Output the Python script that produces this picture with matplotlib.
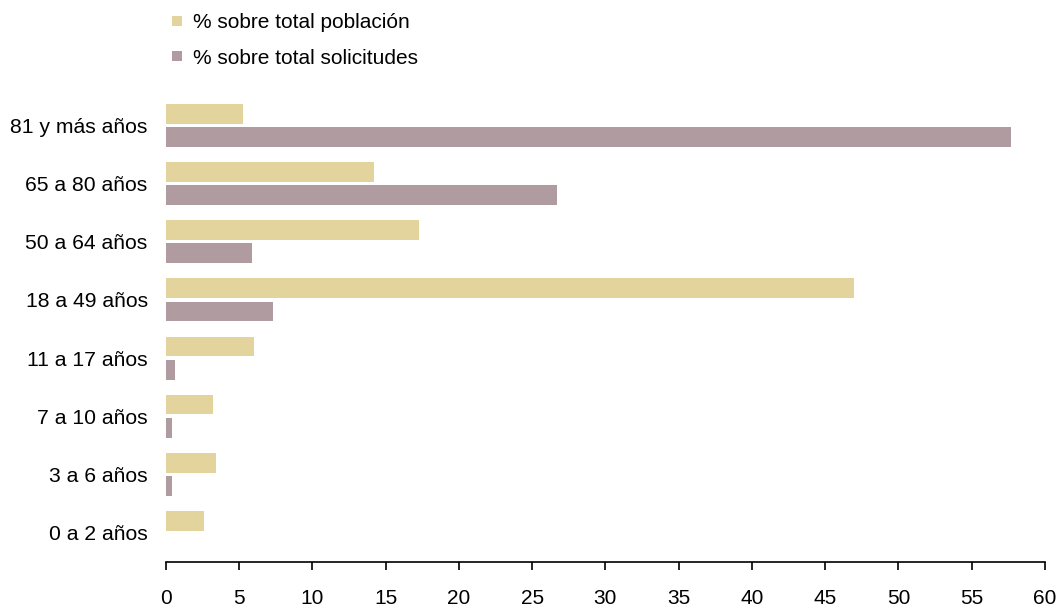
import matplotlib.pyplot as plt
import numpy as np
from matplotlib.lines import Line2D

plt.rcParams['font.family'] = ['Liberation Sans', 'DejaVu Sans']

# ── Data ─────────────────────────────────────
grupos = ["0 a 2 años", "3 a 6 años", "7 a 10 años", "11 a 17 años",
          "18 a 49 años", "50 a 64 años", "65 a 80 años", "81 y más años"]
pct_poblacion   = [2.6, 3.4, 3.2, 6.0, 46.95, 17.3, 14.2, 5.3]
pct_solicitudes = [0.0, 0.4, 0.4, 0.66, 7.35, 5.9, 26.7, 57.7]

c_pob = "#E3D49D"
c_sol = "#B09BA1"

# ── Plot ─────────────────────────────────────
fig = plt.figure(figsize=(10.56, 6.09), dpi=100)
ax = fig.add_axes([0.1569, 0.0777, 0.9896 - 0.1569, 0.8419 - 0.0777])

y = np.arange(len(grupos))
h = 0.34
ax.barh(y + 0.2, pct_poblacion, height=h, color=c_pob)
ax.barh(y - 0.2, pct_solicitudes, height=h, color=c_sol)

ax.set_xlim(0, 60)
ax.set_ylim(-0.5, 7.5)
ax.set_xticks(range(0, 61, 5))
ax.set_yticks(y)
ax.set_yticklabels(grupos)

for s in ["top", "right", "left"]:
    ax.spines[s].set_visible(False)
ax.spines["bottom"].set_linewidth(1.2)
ax.tick_params(axis="x", direction="out", length=6, width=1.2, pad=14, labelsize=15)
ax.tick_params(axis="y", length=0, pad=13, labelsize=15.2)

handles = [Line2D([], [], marker="s", linestyle="none", markersize=7.5,
                  color=c, markeredgewidth=0) for c in (c_pob, c_sol)]
fig.legend(handles, ["% sobre total población", "% sobre total solicitudes"],
           loc="upper left", bbox_to_anchor=(0.147, 1.002), frameon=False,
           fontsize=15, handlelength=0.7, handletextpad=0.40, labelspacing=0.78,
           borderaxespad=0.3)

plt.savefig("out.png", dpi=100)
